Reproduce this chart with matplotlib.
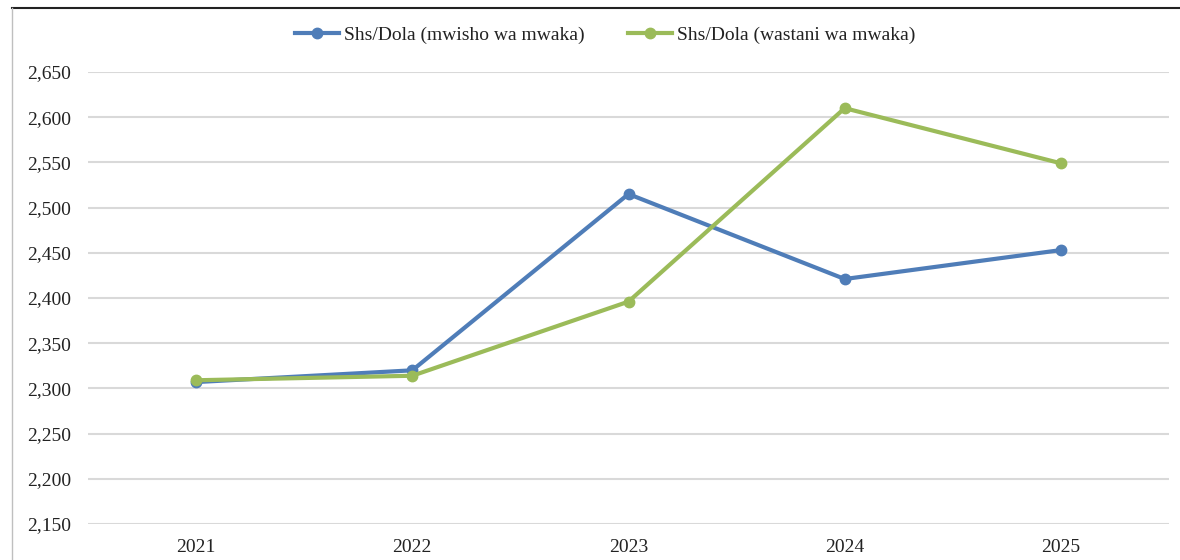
import matplotlib.pyplot as plt
from matplotlib.lines import Line2D

# Exchange rate data (Shs per USD)
years = ['2021', '2022', '2023', '2024', '2025']
end_of_year = [2307, 2320, 2515, 2421, 2453]
annual_avg = [2309, 2314, 2396, 2610, 2549]
yticks = list(range(2150, 2651, 50))

blue = '#4F7DB8'
green = '#9BBB59'

plt.rcParams['font.family'] = ['Liberation Serif', 'DejaVu Serif']

fig = plt.figure(figsize=(11.8, 5.6), dpi=100)
ax = fig.add_axes([88 / 1180, 1 - 524 / 560, (1169 - 88) / 1180, (524 - 72) / 560])

x = list(range(len(years)))
ax.plot(x, end_of_year, '-o', color=blue, lw=3, ms=7.5, label='Shs/Dola (mwisho wa mwaka)', zorder=3)
ax.plot(x, annual_avg, '-o', color=green, lw=3, ms=7.5, label='Shs/Dola (wastani wa mwaka)', zorder=4)

ax.set_xlim(-0.5, len(years) - 0.5)
ax.set_ylim(2150, 2650)
ax.set_xticks(x)
ax.set_xticklabels(years)
ax.set_yticks(yticks)
ax.set_yticklabels([f'{v:,}' for v in yticks])
ax.tick_params(axis='both', length=0, labelsize=14, colors='#222222')
ax.tick_params(axis='y', pad=12)
ax.tick_params(axis='x', pad=11)
ax.grid(axis='y', color='#D9D9D9', lw=1.5)
ax.set_axisbelow(True)
for s in ax.spines.values():
    s.set_visible(False)

leg = fig.legend(loc='center', bbox_to_anchor=(605 / 1180, 1 - 35 / 560), ncol=2,
                 frameon=False, fontsize=14, handlelength=2.3, handletextpad=0.25,
                 columnspacing=2.2)
for t in leg.get_texts():
    t.set_color('#222222')

# page frame from the document
fig.add_artist(Line2D([12 / 1180, 1], [1 - 8 / 560, 1 - 8 / 560], color='#222222', lw=1.5,
                      transform=fig.transFigure))
fig.add_artist(Line2D([12 / 1180, 12 / 1180], [0, 1 - 8 / 560], color='#BFBFBF', lw=1,
                      transform=fig.transFigure))

fig.savefig('out.png', dpi=100)
